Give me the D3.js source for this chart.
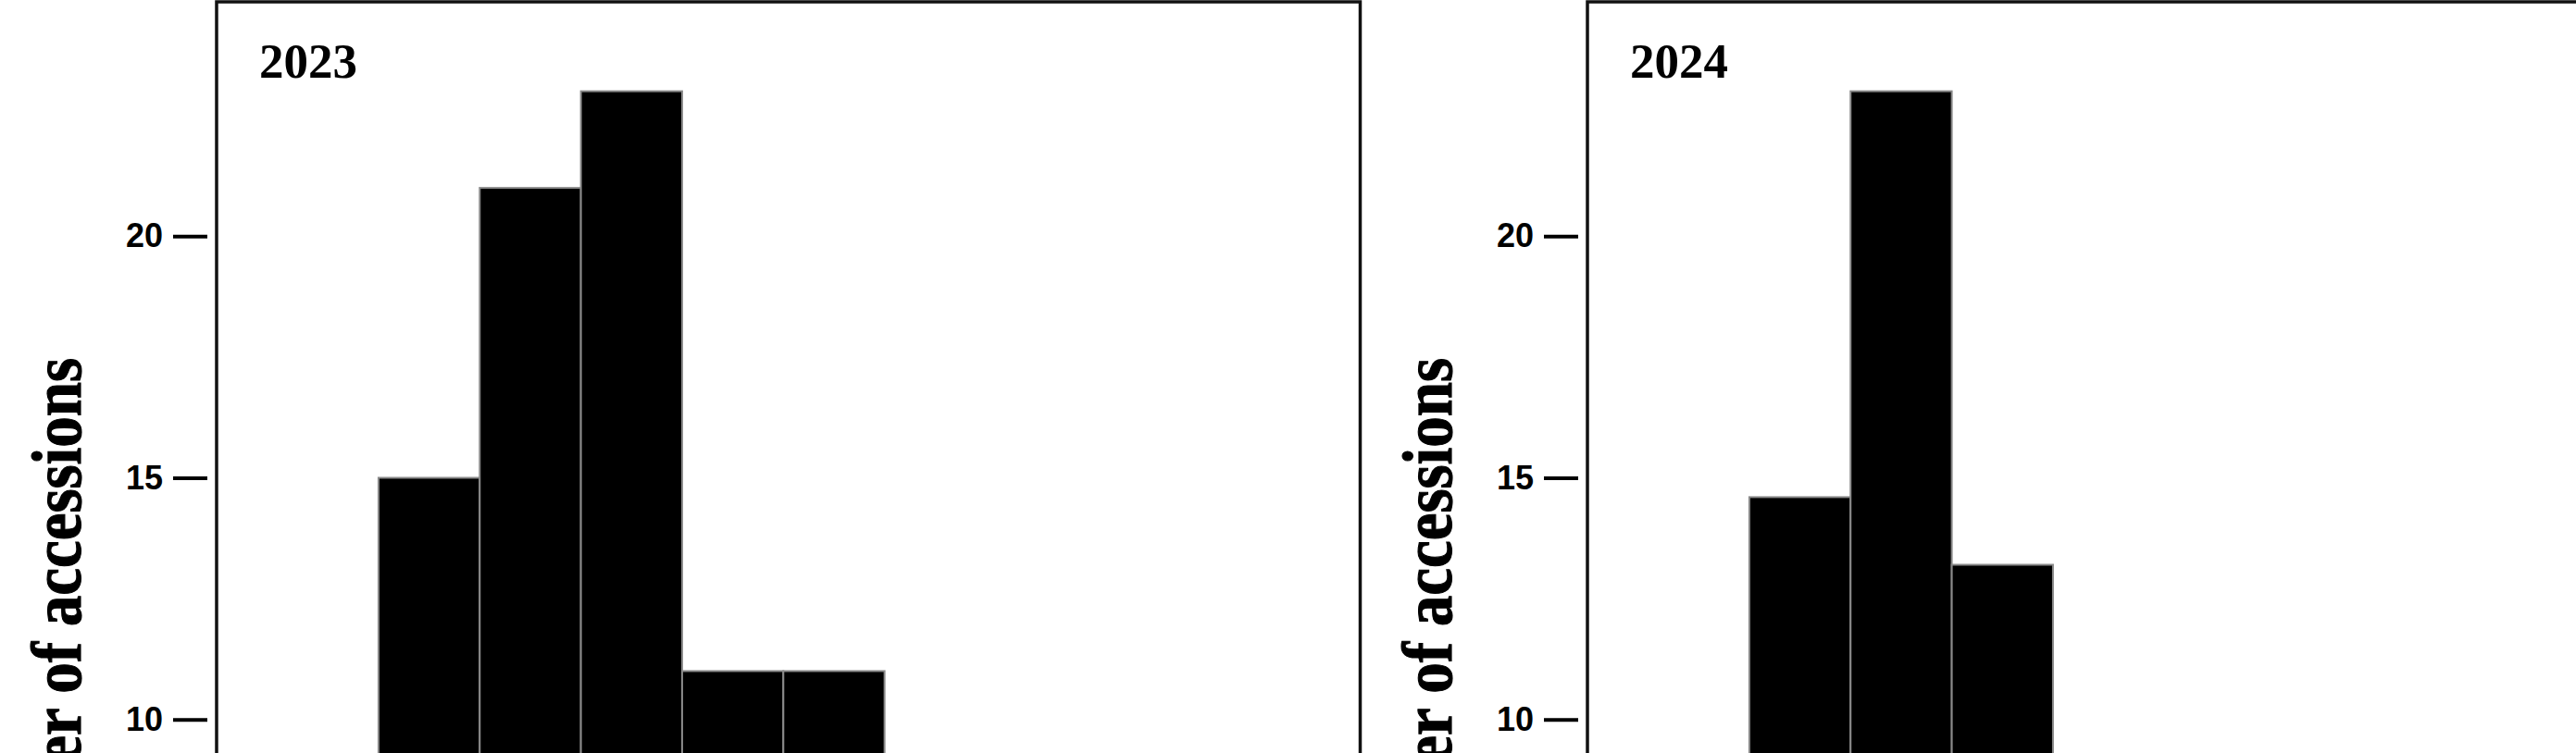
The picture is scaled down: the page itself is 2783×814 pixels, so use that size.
<!DOCTYPE html>
<html>
<head>
<meta charset="utf-8">
<script src="https://cdn.jsdelivr.net/npm/d3@7"></script>
<style>
  body { margin: 0; background: #fff; overflow: hidden; }
</style>
</head>
<body>
<div id="chart"></div>
<script>
// Histogram counts per bin (only the top of the figure is visible).
var years = ["2023", "2024"];
var binIndex = [0, 1, 2, 3, 4];
var counts2023 = [15, 21, 23, 11, 11];
var counts2024 = [14.6, 23, 13.2];
// Only these ticks fall inside the visible part of the figure.
var yTicks = [10, 15, 20];
var yTitle = "Number of accessions";

// Canvas is 2783 x 814.
var width = 2783;
var height = 814;

// Panel frames (left edges) and sizes.
var panelLeft = [234, 1715];
var frameWidth = 1235.5;
var frameTop = 2;
var frameBottom = 1380;   // runs off the bottom of the picture

var svg = d3.select('#chart')
            .append('svg')
            .attr('width', width)
            .attr('height', height)
            .style('background', '#fff');

// Same y scale for both panels.
var y = d3.scaleLinear()
          .domain([0, 24.85])
          .range([1300, frameTop]);

var seriesByYear = [counts2023, counts2024];

years.forEach(function (year, p) {
	var left = panelLeft[p];
	var counts = seriesByYear[p];
	var data = counts.map(function (c, i) { return { bin: binIndex[i], count: c }; });

	// Bin positions: one bin ~ 109 px, first bar starts 1.6 bins in from the frame.
	var x = d3.scaleLinear()
	          .domain([-1.6, 9.7])
	          .range([left, left + frameWidth]);

	var g = svg.append('g').attr('class', 'panel-' + year);

	// Bars
	g.selectAll('rect.bar')
	 .data(data)
	 .enter()
	 .append('rect')
	 .attr('class', 'bar')
	 .attr('x', function (d) { return x(d.bin); })
	 .attr('width', function (d) { return x(d.bin + 1) - x(d.bin); })
	 .attr('y', function (d) { return y(d.count); })
	 .attr('height', function (d) { return y(0) - y(d.count); })
	 .attr('fill', '#000')
	 .attr('stroke', '#8a8a8a')
	 .attr('stroke-width', 2);

	// Frame
	g.append('rect')
	 .attr('x', left)
	 .attr('y', frameTop)
	 .attr('width', frameWidth)
	 .attr('height', frameBottom - frameTop)
	 .attr('fill', 'none')
	 .attr('stroke', '#111')
	 .attr('stroke-width', 3.5);

	// Y axis, sitting a little left of the frame
	var axis = d3.axisLeft(y)
	             .tickValues(yTicks)
	             .tickSize(37)
	             .tickPadding(11)
	             .tickFormat(d3.format('d'));

	var ax = g.append('g')
	          .attr('transform', 'translate(' + (left - 10) + ',0)')
	          .call(axis);
	ax.select('.domain').remove();
	ax.selectAll('.tick line')
	  .attr('stroke', '#000')
	  .attr('stroke-width', 4);
	ax.selectAll('.tick text')
	  .attr('fill', '#000')
	  .style('font-family', '"Liberation Sans", Arial, sans-serif')
	  .style('font-weight', 'bold')
	  .style('font-size', '36px');

	// Year label in the top-left corner
	g.append('text')
	 .attr('x', left + 46)
	 .attr('y', 84)
	 .style('font-family', '"Liberation Serif", "Times New Roman", serif')
	 .style('font-weight', 'bold')
	 .style('font-size', '53px')
	 .attr('fill', '#000')
	 .text(year);

	// Y axis title (rotated, glyphs a bit taller like the original)
	g.append('text')
	 .attr('transform', 'translate(' + (left - 147) + ',387) rotate(-90) scale(1,1.14)')
	 .attr('text-anchor', 'end')
	 .style('font-family', '"Liberation Serif", "Times New Roman", serif')
	 .style('font-weight', 'bold')
	 .style('font-size', '67px')
	 .attr('fill', '#000')
	 .attr('stroke', '#000')
	 .attr('stroke-width', 1)
	 .text(yTitle);
});
</script>
</body>
</html>
